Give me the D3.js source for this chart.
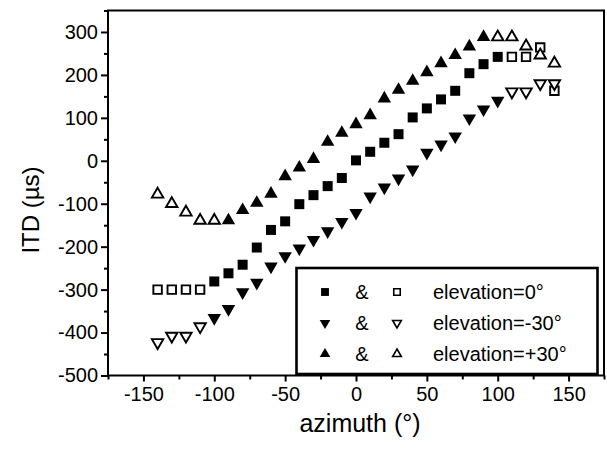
<!DOCTYPE html>
<html><head><meta charset="utf-8">
<script src="https://cdn.jsdelivr.net/npm/d3@7"></script>
<style>
html,body{margin:0;padding:0;background:#fff;}
svg{display:block;font-family:"Liberation Sans",Arial,Helvetica,sans-serif;}
</style></head>
<body><svg id="c" width="607" height="452"></svg>
<script>
const azimuth = [-140,-130,-120,-110,-100,-90,-80,-70,-60,-50,-40,-30,-20,-10,0,10,20,30,40,50,60,70,80,90,100,110,120,130,140];
const itdElev0   = [-300,-300,-300,-300,-281,-262,-242,-202,-161,-141,-101,-80,-59,-40,1,21,42,62,101,122,143,163,204,225,242,242,242,264,163];
const itdElevM30 = [-423,-408,-408,-386,-366,-345,-306,-284,-246,-222,-204,-184,-164,-142,-121,-83,-62,-41,-20,19,38,57,99,120,140,161,161,180,180];
const itdElevP30 = [-78,-100,-120,-139,-139,-139,-115,-98,-77,-36,-16,4,44,65,85,106,145,165,186,206,227,246,266,288,288,288,267,246,227];
const openElev0   = [-140,-130,-120,-110,110,120,130,140];
const openElevM30 = [-140,-130,-120,-110,110,120,130,140];
const openElevP30 = [-140,-130,-120,-110,-100,100,110,120,130,140];
const xTicks = [-150,-100,-50,0,50,100,150];
const yTicks = [-500,-400,-300,-200,-100,0,100,200,300];
const legendLabels = ["elevation=0°","elevation=-30°","elevation=+30°"];

const svg = d3.select("#c");
const L=108, R=604, T=10.5, B=375.5;
const x = d3.scaleLinear().domain([-175,175]).range([L,R]);
const y = d3.scaleLinear().domain([-500,350]).range([B,T]);

const series = [
  {vals: itdElev0, open: openElev0, shape: d3.symbolSquare, size: 100, rot: 0},
  {vals: itdElevM30, open: openElevM30, shape: d3.symbolTriangle, size: 78, rot: 180},
  {vals: itdElevP30, open: openElevP30, shape: d3.symbolTriangle, size: 78, rot: 0}
];

const fmt = d => String(d);
const xMinor = d3.range(-175,176,25).filter(v=>!xTicks.includes(v));
const yMinor = d3.range(-450,351,50).filter(v=>!yTicks.includes(v));
const gx = svg.append("g").attr("transform",`translate(0,${B})`);
gx.call(d3.axisBottom(x).tickValues(xTicks).tickSize(6).tickPadding(5).tickFormat(fmt));
const gxm = svg.append("g").attr("transform",`translate(0,${B})`);
gxm.call(d3.axisBottom(x).tickValues(xMinor).tickSize(4).tickFormat(""));
const gy = svg.append("g").attr("transform",`translate(${L},0)`);
gy.call(d3.axisLeft(y).tickValues(yTicks).tickSize(7).tickPadding(3).tickFormat(fmt));
const gym = svg.append("g").attr("transform",`translate(${L},0)`);
gym.call(d3.axisLeft(y).tickValues(yMinor).tickSize(4).tickFormat(""));
[gx,gxm,gy,gym].forEach(g=>{
  g.select(".domain").remove();
  g.selectAll("line").attr("stroke","#000").attr("stroke-width",2);
  g.selectAll("text").attr("font-size",20).attr("fill","#000").attr("font-family","Liberation Sans, Arial, sans-serif");
});
svg.append("rect").attr("x",L).attr("y",T).attr("width",R-L).attr("height",B-T)
  .attr("fill","none").attr("stroke","#000").attr("stroke-width",2);

series.forEach(s=>{
  const sym = d3.symbol().type(s.shape).size(s.size);
  const pts = azimuth.map((a,i)=>({a, v:s.vals[i], open: s.open.includes(a)}));
  svg.append("g").selectAll("path").data(pts).join("path")
    .attr("d", d=> d.open ? d3.symbol().type(s.shape).size(s.size*0.72)() : sym())
    .attr("transform", d=>`translate(${x(d.a)},${y(d.v)}) rotate(${s.rot})`)
    .attr("fill", d=>d.open?"#fff":"#000")
    .attr("stroke","#000")
    .attr("stroke-width", d=>d.open?1.9:0);
});

const lg = svg.append("g");
lg.append("rect").attr("x",296.5).attr("y",268).attr("width",301).attr("height",106)
  .attr("fill","#fff").attr("stroke","#000").attr("stroke-width",2.6);
const rowsY=[292,323,354];
series.forEach((s,i)=>{
  const yy=rowsY[i];
  lg.append("path").attr("d",d3.symbol().type(s.shape).size(s.size*0.62)())
    .attr("transform",`translate(325,${yy}) rotate(${s.rot})`).attr("fill","#000");
  lg.append("text").attr("x",362).attr("y",yy+7).attr("text-anchor","middle").attr("font-size",20).text("&");
  lg.append("path").attr("d",d3.symbol().type(s.shape).size(s.size*0.42)())
    .attr("transform",`translate(397,${yy}) rotate(${s.rot})`).attr("fill","#fff").attr("stroke","#000").attr("stroke-width",1.6);
  lg.append("text").attr("x",433).attr("y",yy+7).attr("font-size",20).attr("textLength",null).text(legendLabels[i]);
});

svg.append("text").attr("x",360).attr("y",432).attr("text-anchor","middle").attr("font-size",25).text("azimuth (°)");
svg.append("text").attr("transform","translate(39,210) rotate(-90)").attr("text-anchor","middle").attr("font-size",24).text("ITD (µs)");
</script></body></html>
